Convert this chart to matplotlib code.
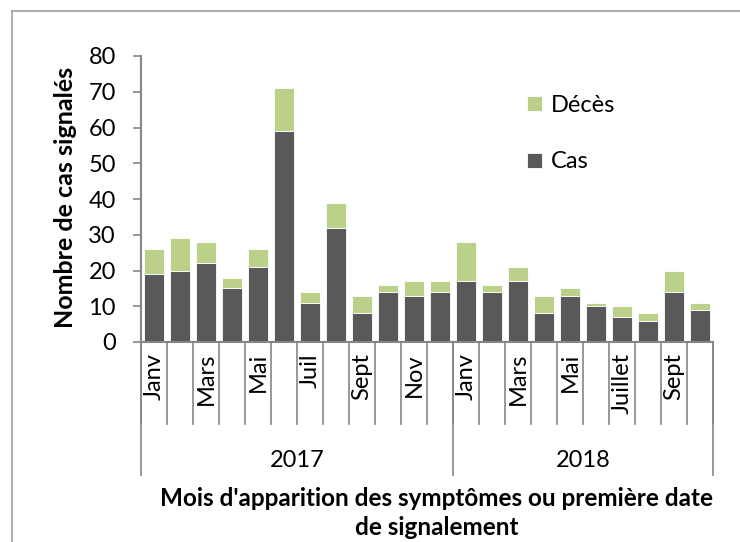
import matplotlib
matplotlib.use("Agg")
import matplotlib.pyplot as plt
from matplotlib.lines import Line2D
import numpy as np

plt.rcParams['font.family'] = ['Lato', 'DejaVu Sans']

years = ['2017', '2018']
months_per_year = [12, 10]
month_labels = ['Janv', '', 'Mars', '', 'Mai', '', 'Juil', '', 'Sept', '', 'Nov', '',
                'Janv', '', 'Mars', '', 'Mai', '', 'Juillet', '', 'Sept', '']
cas = [19, 20, 22, 15, 21, 59, 11, 32, 8, 14, 13, 14,
       17, 14, 17, 8, 13, 10, 7, 6, 14, 9]
deces = [7, 9, 6, 3, 5, 12, 3, 7, 5, 2, 4, 3,
         11, 2, 4, 5, 2, 1, 3, 2, 6, 2]

dark = '#595959'
green = '#BBD18A'
axis_col = '#868686'

fig = plt.figure(figsize=(7.4, 5.42), dpi=100)
ax = fig.add_axes([141/740, 1 - 342/542, (713 - 141)/740, (342 - 56)/542])

x = np.arange(len(cas))
ax.bar(x, cas, width=0.77, color=dark, edgecolor='white', linewidth=0.6, label='Cas')
ax.bar(x, deces, width=0.77, bottom=cas, color=green, edgecolor='white', linewidth=0.6, label='Décès')

ax.set_xlim(-0.5, len(cas) - 0.5)
ax.set_ylim(0, 80)
ax.set_yticks(range(0, 81, 10))
ax.tick_params(axis='y', labelsize=17, length=6, width=1.2, color=axis_col, pad=12)
ax.set_xticks(x)
ax.set_xticklabels(month_labels, rotation=90, fontsize=17)
ax.tick_params(axis='x', length=0, pad=8)

for s in ['top', 'right']:
    ax.spines[s].set_visible(False)
for s in ['left', 'bottom']:
    ax.spines[s].set_color(axis_col)
    ax.spines[s].set_linewidth(1.5)

# category separators below the axis
trans = ax.get_xaxis_transform()
for b in np.arange(-0.5, len(cas), 1.0):
    ax.plot([b, b], [0, -0.287], transform=trans, color=axis_col, lw=1.2, clip_on=False)
edges = np.concatenate([[0], np.cumsum(months_per_year)]) - 0.5
for b in edges:
    ax.plot([b, b], [0, -0.465], transform=trans, color=axis_col, lw=1.2, clip_on=False)
for i, yr in enumerate(years):
    ax.text((edges[i] + edges[i + 1]) / 2, -0.413, yr, transform=trans,
            ha='center', va='center', fontsize=17)

h, l = ax.get_legend_handles_labels()
ax.legend(h[::-1], l[::-1], loc='upper left', bbox_to_anchor=(0.655, 0.905),
          frameon=False, fontsize=17, handlelength=0.6, handleheight=0.6,
          handletextpad=0.4, labelspacing=1.5, borderpad=0)

fig.text(66/740, 1 - 197/542, 'Nombre de cas signalés', rotation=90,
         ha='center', va='center', fontsize=18, fontweight='bold')
fig.text(437/740, 1 - 513/542, "Mois d'apparition des symptômes ou première date\nde signalement",
         ha='center', va='center', fontsize=17.5, fontweight='bold', linespacing=1.3)

# outer frame (left and top edges visible)
fig.add_artist(Line2D([12/740, 12/740], [0, 1 - 11/542], color='#A0A0A0', lw=1.2))
fig.add_artist(Line2D([12/740, 1], [1 - 11/542, 1 - 11/542], color='#A0A0A0', lw=1.2))

fig.savefig('out.png', dpi=100)
